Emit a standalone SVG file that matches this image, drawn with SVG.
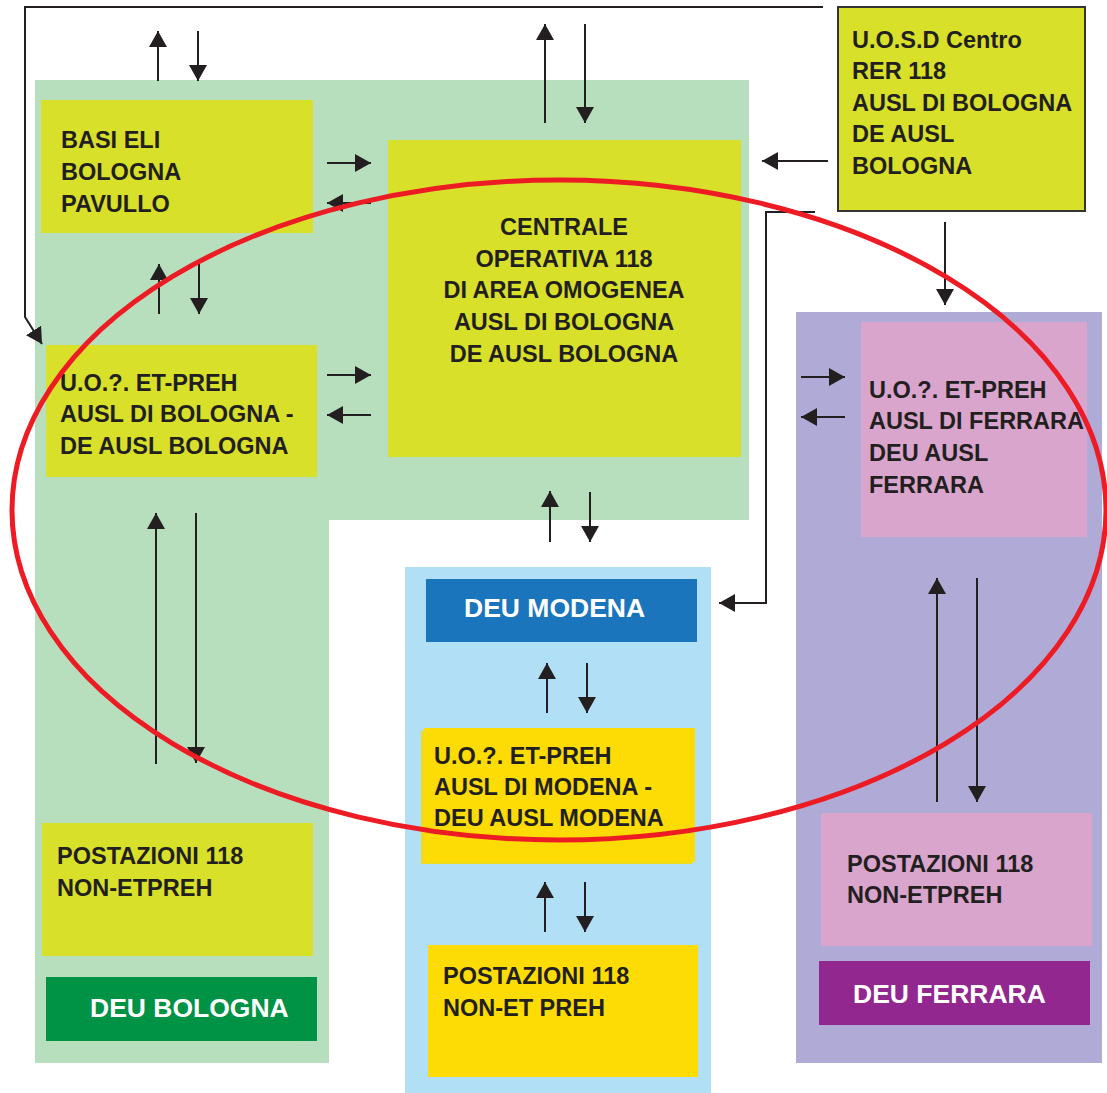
<svg xmlns="http://www.w3.org/2000/svg" width="1107" height="1093" viewBox="0 0 1107 1093">
<style>
.t{font-family:"Liberation Sans",Arial,sans-serif;font-weight:bold;font-size:23.5px;fill:#231f20}
.w{font-family:"Liberation Sans",Arial,sans-serif;font-weight:bold;font-size:26.5px;fill:#ffffff}
.c{text-anchor:middle}
.yg{fill:#d8e02a}
.ln{stroke:#231f20;stroke-width:2;fill:none}
.ar{marker-end:url(#ah)}
</style>
<defs>
<marker id="ah" markerUnits="userSpaceOnUse" markerWidth="16" markerHeight="18" refX="16" refY="9" orient="auto">
<path d="M0,0 L16,9 L0,18 z" fill="#231f20"/>
</marker>
</defs>
<rect width="1107" height="1093" fill="#ffffff"/>
<g id="area-bologna">
<path d="M35,80 H749 V520 H329 V1063 H35 Z" fill="#b7dfbd"/>
</g>
<g id="area-modena">
<rect x="405" y="567" width="306" height="526" fill="#b1e0f6"/>
</g>
<g id="area-ferrara">
<rect x="796" y="312" width="306" height="751" fill="#b0abd6"/>
</g>
<g id="basi-eli">
<rect class="yg" x="41" y="100" width="272" height="133"/>
<text class="t" x="61" y="148">BASI ELI</text>
<text class="t" x="61" y="180">BOLOGNA</text>
<text class="t" x="61" y="212">PAVULLO</text>
</g>
<g id="centrale">
<rect class="yg" x="388" y="140" width="353" height="317"/>
<text class="t c" x="564" y="235">CENTRALE</text>
<text class="t c" x="564" y="267">OPERATIVA 118</text>
<text class="t c" x="564" y="298">DI AREA OMOGENEA</text>
<text class="t c" x="564" y="330">AUSL DI BOLOGNA</text>
<text class="t c" x="564" y="362">DE AUSL BOLOGNA</text>
</g>
<g id="uosd">
<rect class="yg" x="838" y="7" width="247" height="204" stroke="#333333" stroke-width="2"/>
<text class="t" x="852" y="48">U.O.S.D Centro</text>
<text class="t" x="852" y="79">RER 118</text>
<text class="t" x="852" y="111">AUSL DI BOLOGNA</text>
<text class="t" x="852" y="142">DE AUSL</text>
<text class="t" x="852" y="174">BOLOGNA</text>
</g>
<g id="uo-bologna">
<rect class="yg" x="46" y="345" width="271" height="132"/>
<text class="t" x="60" y="391">U.O.?. ET-PREH</text>
<text class="t" x="60" y="422">AUSL DI BOLOGNA -</text>
<text class="t" x="60" y="454">DE AUSL BOLOGNA</text>
</g>
<g id="postazioni-bologna">
<rect class="yg" x="42" y="823" width="271" height="133"/>
<text class="t" x="57" y="864">POSTAZIONI 118</text>
<text class="t" x="57" y="896">NON-ETPREH</text>
</g>
<g id="deu-bologna">
<rect x="46" y="977" width="271" height="64" fill="#009245"/>
<text class="w" x="90" y="1017">DEU BOLOGNA</text>
</g>
<g id="deu-modena">
<rect x="426" y="579" width="271" height="63" fill="#1b75bc"/>
<text class="w" x="464" y="617">DEU MODENA</text>
</g>
<g id="uo-modena">
<rect x="421" y="731" width="271" height="133" fill="#eedc1c"/>
<rect x="424" y="728" width="271" height="134" fill="#fcdc04"/>
<text class="t" x="434" y="764">U.O.?. ET-PREH</text>
<text class="t" x="434" y="795">AUSL DI MODENA -</text>
<text class="t" x="434" y="826">DEU AUSL MODENA</text>
</g>
<g id="postazioni-modena">
<rect x="428" y="945" width="270" height="132" fill="#fcdc04"/>
<text class="t" x="443" y="984">POSTAZIONI 118</text>
<text class="t" x="443" y="1016">NON-ET PREH</text>
</g>
<g id="uo-ferrara">
<rect x="861" y="322" width="226" height="215" fill="#d9a5cc"/>
<text class="t" x="869" y="398">U.O.?. ET-PREH</text>
<text class="t" x="869" y="429">AUSL DI FERRARA</text>
<text class="t" x="869" y="461">DEU AUSL</text>
<text class="t" x="869" y="493">FERRARA</text>
</g>
<g id="postazioni-ferrara">
<rect x="821" y="813" width="271" height="133" fill="#d9a5cc"/>
<text class="t" x="847" y="872">POSTAZIONI 118</text>
<text class="t" x="847" y="903">NON-ETPREH</text>
</g>
<g id="deu-ferrara">
<rect x="819" y="961" width="271" height="64" fill="#92278f"/>
<text class="w" x="853" y="1003">DEU FERRARA</text>
</g>
<g id="connectors">
<line class="ln ar" x1="158" y1="81" x2="158" y2="31"/>
<line class="ln ar" x1="198" y1="31" x2="198" y2="81"/>
<line class="ln ar" x1="327" y1="163" x2="371" y2="163"/>
<line class="ln ar" x1="371" y1="203" x2="327" y2="203"/>
<line class="ln ar" x1="159" y1="314" x2="159" y2="264"/>
<line class="ln ar" x1="199" y1="264" x2="199" y2="314"/>
<line class="ln ar" x1="327" y1="375" x2="371" y2="375"/>
<line class="ln ar" x1="371" y1="415" x2="327" y2="415"/>
<line class="ln ar" x1="156" y1="764" x2="156" y2="513"/>
<line class="ln ar" x1="196" y1="513" x2="196" y2="763"/>
<line class="ln ar" x1="545" y1="123" x2="545" y2="24"/>
<line class="ln ar" x1="585" y1="24" x2="585" y2="123"/>
<line class="ln ar" x1="828" y1="161" x2="762" y2="161"/>
<line class="ln ar" x1="945" y1="222" x2="945" y2="305"/>
<polyline class="ln ar" points="823,7 25,7 25,317 42,344"/>
<polyline class="ln ar" points="815,212 766,212 766,603 719,603"/>
<line class="ln ar" x1="550" y1="542" x2="550" y2="491"/>
<line class="ln ar" x1="590" y1="492" x2="590" y2="542"/>
<line class="ln ar" x1="547" y1="713" x2="547" y2="663"/>
<line class="ln ar" x1="587" y1="663" x2="587" y2="713"/>
<line class="ln ar" x1="545" y1="932" x2="545" y2="882"/>
<line class="ln ar" x1="585" y1="882" x2="585" y2="932"/>
<line class="ln ar" x1="801" y1="377" x2="845" y2="377"/>
<line class="ln ar" x1="845" y1="417" x2="801" y2="417"/>
<line class="ln ar" x1="937" y1="802" x2="937" y2="578"/>
<line class="ln ar" x1="977" y1="578" x2="977" y2="802"/>
</g>
<g id="highlight">
<ellipse cx="559" cy="510" rx="547" ry="330" fill="none" stroke="#ed1c24" stroke-width="5"/>
</g>
</svg>
